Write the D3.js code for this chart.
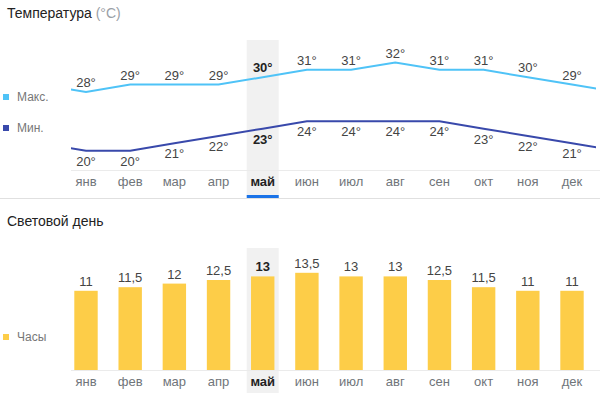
<!DOCTYPE html>
<html>
<head>
<meta charset="utf-8">
<script src="https://cdn.jsdelivr.net/npm/d3@7"></script>
<style>
  body { margin: 0; background: #fff; }
  svg { font-family: "Liberation Sans", Arial, sans-serif; display: block; }
</style>
</head>
<body>
<svg width="600" height="393"></svg>
<script>
var months = ['янв', 'фев', 'мар', 'апр', 'май', 'июн', 'июл', 'авг', 'сен', 'окт', 'ноя', 'дек'];
var tMax = [28, 29, 29, 29, 30, 31, 31, 32, 31, 31, 30, 29];
var tMin = [20, 20, 21, 22, 23, 24, 24, 24, 24, 23, 22, 21];
var daylight = [11, 11.5, 12, 12.5, 13, 13.5, 13, 13, 12.5, 11.5, 11, 11];
var current = 4; // май

var svg = d3.select('svg'),
  w = +svg.attr('width');

var x = d3.scalePoint().domain(d3.range(12)).range([86, 572]);
var step = x.step();
var left = 71, right = 596;

// background highlight for current month
[[40, 198], [248, 393]].forEach(function(r) {
  svg.append('rect')
    .attr('x', x(current) - 16).attr('width', 32)
    .attr('y', r[0]).attr('height', r[1] - r[0])
    .attr('fill', '#f1f1f1');
});

/** Temperature **/
var title1 = svg.append('text').attr('x', 7).attr('y', 18)
  .attr('font-size', 14).attr('fill', '#222');
title1.append('tspan').text('Температура ');
title1.append('tspan').attr('fill', '#9aa0a6').text('(°C)');

var yT = d3.scaleLinear().domain([20, 32]).range([150.7, 62.5]);

// axis line
svg.append('line').attr('x1', left).attr('x2', w)
  .attr('y1', 170.5).attr('y2', 170.5).attr('stroke', '#ebebeb');

svg.append('clipPath').attr('id', 'clip')
  .append('rect').attr('x', left).attr('y', 0).attr('width', right - left).attr('height', 200);

function drawSeries(vals, color, above) {
  // wrap around so the line continues past the ends
  var pts = [[-1, vals[11]]].concat(vals.map(function(v, i) { return [i, v]; }), [[12, vals[0]]]);
  var line = d3.line()
    .x(function(d) { return x(0) + d[0] * step; })
    .y(function(d) { return yT(d[1]); });
  svg.append('path').datum(pts)
    .attr('clip-path', 'url(#clip)')
    .attr('d', line)
    .attr('fill', 'none').attr('stroke', color).attr('stroke-width', 2);

  svg.append('g').selectAll('text').data(vals).enter().append('text')
    .attr('x', function(d, i) { return x(i); })
    .attr('y', function(d) { return yT(d) + (above ? -5 : 15); })
    .attr('text-anchor', 'middle')
    .attr('font-size', 13)
    .attr('font-weight', function(d, i) { return i === current ? 'bold' : null; })
    .attr('fill', function(d, i) { return i === current ? '#222' : '#444'; })
    .text(function(d) { return d + '°'; });
}
drawSeries(tMax, '#4fc3f7', true);
drawSeries(tMin, '#3949ab', false);

function legend(y, color, label) {
  svg.append('rect').attr('x', 3).attr('y', y - 3).attr('width', 6).attr('height', 6).attr('fill', color);
  svg.append('text').attr('x', 17).attr('y', y + 4).attr('font-size', 12).attr('fill', '#777').text(label);
}
legend(97, '#4fc3f7', 'Макс.');
legend(128, '#3949ab', 'Мин.');

function monthLabels(y) {
  svg.append('g').selectAll('text').data(months).enter().append('text')
    .attr('x', function(d, i) { return x(i); })
    .attr('y', y)
    .attr('text-anchor', 'middle')
    .attr('font-size', 13)
    .attr('font-weight', function(d, i) { return i === current ? 'bold' : null; })
    .attr('fill', function(d, i) { return i === current ? '#222' : '#70757a'; })
    .text(function(d) { return d; });
}
monthLabels(186);

svg.append('rect').attr('x', x(current) - 16).attr('width', 32)
  .attr('y', 195).attr('height', 3).attr('fill', '#1a73e8');

svg.append('line').attr('x1', 0).attr('x2', w)
  .attr('y1', 198.5).attr('y2', 198.5).attr('stroke', '#e0e0e0');

/** Daylight **/
svg.append('text').attr('x', 7).attr('y', 226)
  .attr('font-size', 14).attr('fill', '#222').text('Световой день');

var yD = d3.scaleLinear().domain([0, 13.5]).range([370, 272.8]);

svg.append('g').selectAll('rect').data(daylight).enter().append('rect')
  .attr('x', function(d, i) { return x(i) - 11.7; })
  .attr('width', 23.4)
  .attr('y', function(d) { return yD(d); })
  .attr('height', function(d) { return yD(0) - yD(d); })
  .attr('fill', '#fdcd48');

svg.append('g').selectAll('text').data(daylight).enter().append('text')
  .attr('x', function(d, i) { return x(i); })
  .attr('y', function(d) { return yD(d) - 5; })
  .attr('text-anchor', 'middle')
  .attr('font-size', 13)
  .attr('font-weight', function(d, i) { return i === current ? 'bold' : null; })
  .attr('fill', function(d, i) { return i === current ? '#222' : '#444'; })
  .text(function(d) { return String(d).replace('.', ','); });

svg.append('line').attr('x1', left).attr('x2', w)
  .attr('y1', 370.5).attr('y2', 370.5).attr('stroke', '#ebebeb');

legend(337, '#fdcd48', 'Часы');
monthLabels(386);
</script>
</body>
</html>
